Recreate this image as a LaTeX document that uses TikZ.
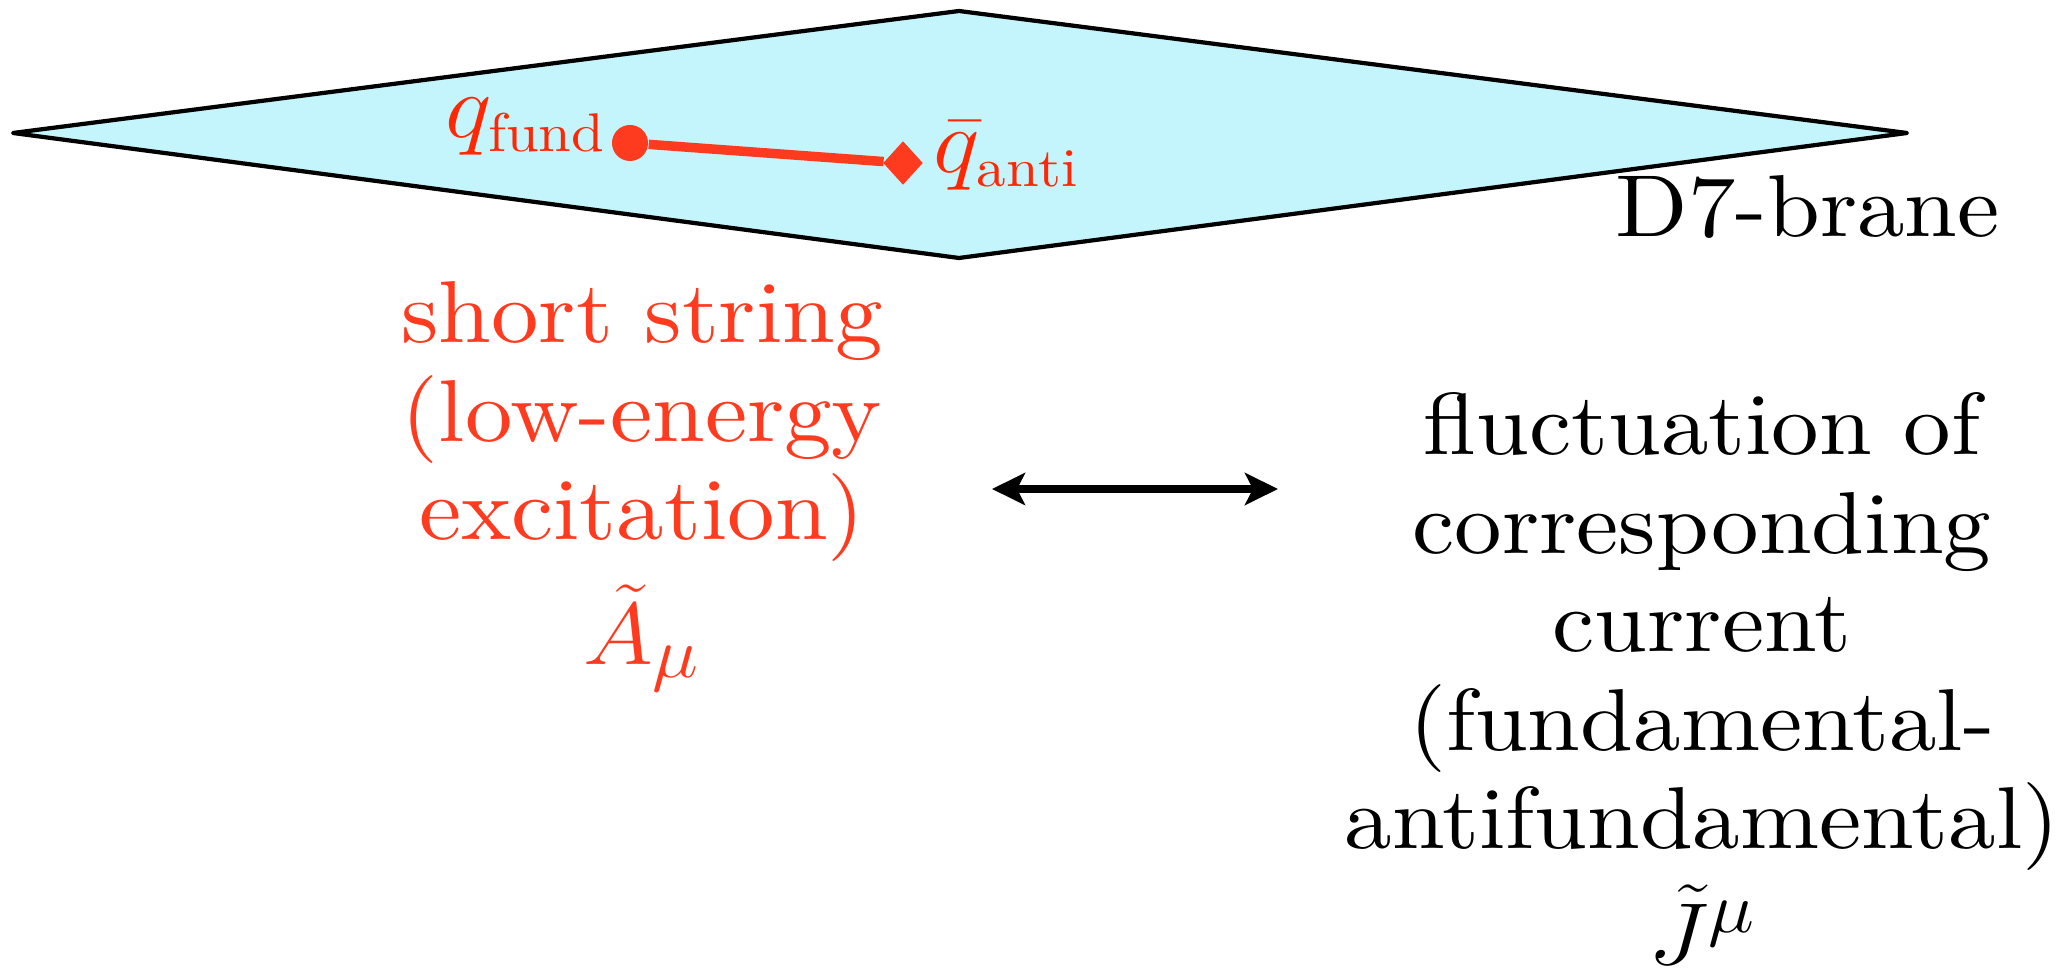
\documentclass[tikz,border=0pt]{standalone}
\usepackage{fix-cm}
\usepackage{amsmath,amssymb}
\usepackage{fontspec}
\setmainfont{lmroman10-regular.otf}
\usepackage{tikz}
\usetikzlibrary{positioning, shapes.geometric}
\usetikzlibrary{arrows.meta}

\definecolor{branecyan}{RGB}{197,245,252}
\definecolor{stringred}{RGB}{255,59,31}
\definecolor{labelred}{RGB}{255,40,5}
\DeclareMathSizes{25}{25}{20.5}{16}
\DeclareMathSizes{26}{26}{15.5}{11}

\begin{document}
\begin{tikzpicture}[
    x=0.01cm, y=-0.01cm,
    txt/.style={inner sep=0pt, xscale=1.08, font=\fontsize{25}{28}\selectfont},
    lbl/.style={inner sep=0pt, xscale=1.08, text=labelred, font=\fontsize{26}{30}\selectfont},
    brane/.style={draw=black, line width=1.2pt, fill=branecyan, line join=round},
    quark/.style={circle, fill=stringred, minimum size=0.36cm, inner sep=0pt},
    antiquark/.style={diamond, fill=stringred, minimum width=0.40cm, minimum height=0.44cm, inner sep=0pt},
    openstring/.style={stringred, line width=2.7pt},
    dual/.style={{Stealth[length=0.33cm, width=0.32cm, inset=0.08cm]}-{Stealth[length=0.33cm, width=0.32cm, inset=0.08cm]}, line width=2.3pt}
]
    \useasboundingbox (0,0) rectangle (2066,980);

    % --- D7-brane (seen edge on)
    \coordinate (W) at (13,133);
    \coordinate (N) at (959,11);
    \coordinate (E) at (1907,133);
    \coordinate (S) at (959,258);
    \draw[brane] (W) -- (N) -- (E) -- (S) -- cycle;
    \node[txt, anchor=base west] (d7) at (1615,237) {D7-brane};

    % --- short string between the two ends
    \node[quark] (fund) at (630,143) {};
    \node[antiquark] (anti) at (903,163) {};
    \draw[openstring] (fund) -- (anti);
    \node[lbl, anchor=base east] (fundlbl) at (607,138) {$q_{\mathrm{fund}}$};
    \node[lbl, anchor=base west] (antilbl) at (933,173) {$\bar{q}_{\mathrm{anti}}$};

    % --- bulk side (left)
    \node[txt, text=stringred, align=center, anchor=north] (bulk) at (642,281)
        {short string\\(low-energy\\excitation)\\[5.5pt]$\tilde{A}_\mu$};

    % --- boundary side (right)
    \node[txt, align=center, anchor=north] (bdry) at (1702,392)
        {fluctuation of\\corresponding\\current\\(fundamental-\\antifundamental)\\[3pt]$\tilde{J}^\mu$};

    \coordinate (arrL) at (992,489);
    \coordinate (arrR) at (1278,489);
    \draw[dual] (arrL) -- (arrR);

\end{tikzpicture}
\end{document}
